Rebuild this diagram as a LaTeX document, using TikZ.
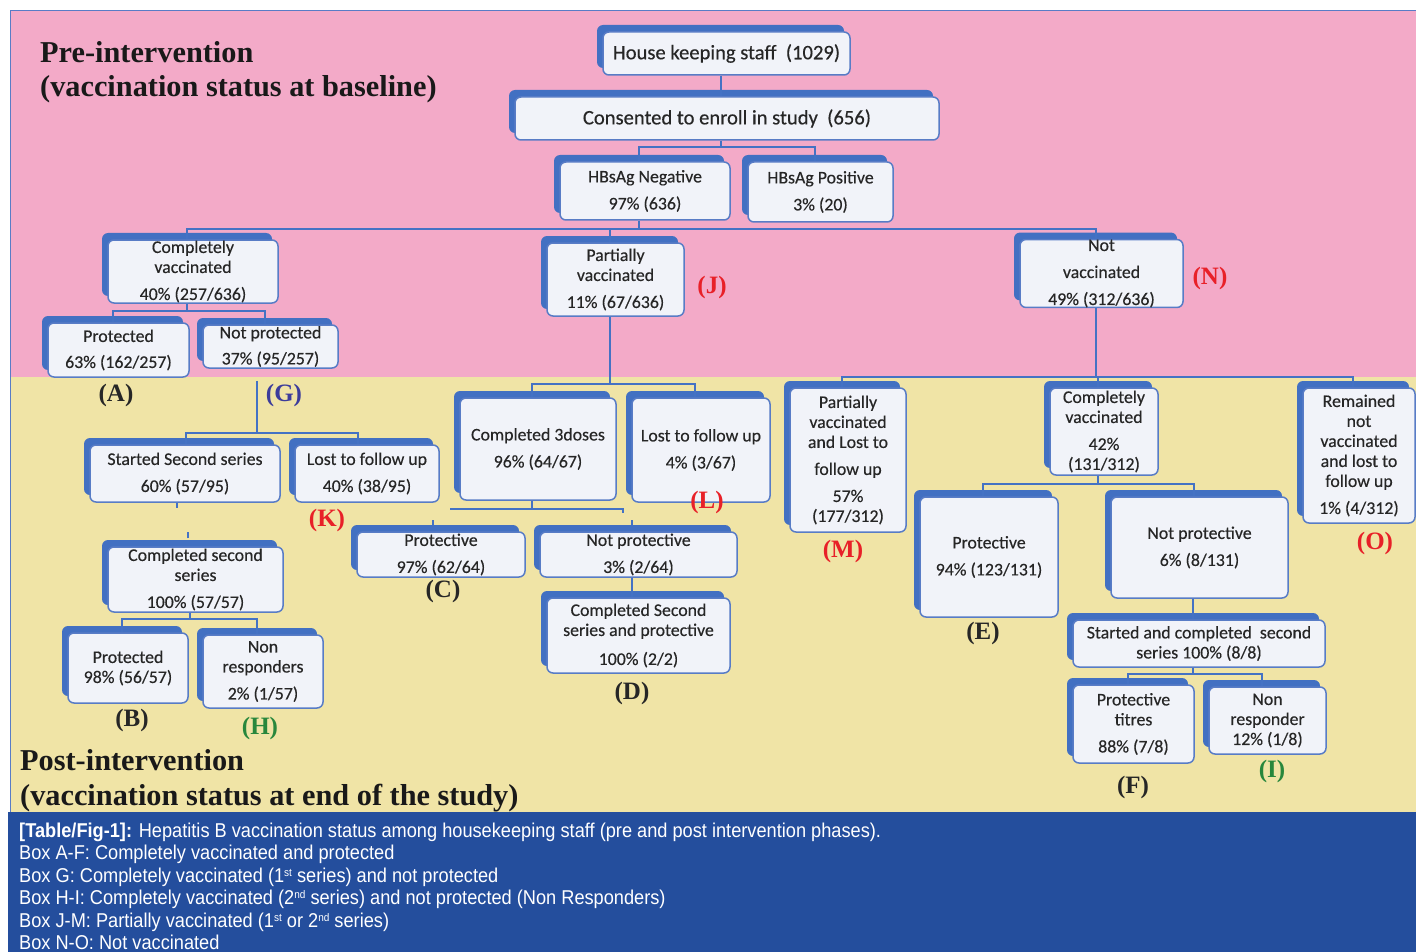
\documentclass[tikz,border=0pt]{standalone}
\usepackage{fontspec}
\usetikzlibrary{shadows,calc}
\newfontfamily\calf[FakeBold=0.35]{Carlito}
\newfontfamily\tmsf{Liberation Serif}
\newfontfamily\capf[FakeStretch=0.91]{Liberation Sans}
\definecolor{pinkbg}{RGB}{243,170,200}
\definecolor{yellowbg}{RGB}{240,228,166}
\definecolor{capblue}{RGB}{36,78,157}
\definecolor{shblue}{RGB}{66,112,194}
\definecolor{bdblue}{RGB}{88,124,198}
\definecolor{boxfill}{RGB}{241,243,249}
\definecolor{cnblue}{RGB}{68,114,196}
\definecolor{lred}{RGB}{232,32,40}
\definecolor{lgreen}{RGB}{40,135,60}
\definecolor{lpurple}{RGB}{60,60,155}
\definecolor{txt}{RGB}{38,38,38}
\newcommand\tconn[3]{%
  \draw[cn] ([xshift=-6pt]#1.south) -- ++(0,#2) coordinate (tmpb);
  \foreach \ch in {#3}{\draw[cn] (tmpb) -| ([xshift=-6pt]\ch.north);}}
\newcommand\bxn[7][bx]{%
  \node[#1, minimum width={(#5-#3)*1pt}, minimum height={(#6-#4)*1pt}] (#2) at ({(#3+#5)/2},{(#4+#6)/2}) {#7};}
\newcommand\supx[1]{\raisebox{6pt}{\fontsize{11}{11}\selectfont #1}}
\begin{document}
\begin{tikzpicture}[x=1pt,y=-1pt,
 bx/.style={draw=bdblue, line width=1.5pt, fill=boxfill, rounded corners=6pt, inner sep=0pt, align=center, text=txt, font=\calf\fontsize{17.8}{20}\selectfont, drop shadow={shadow xshift=-6pt, shadow yshift=7pt, fill=shblue, opacity=1}},
 bigbx/.style={bx, font=\calf\fontsize{20.6}{22}\selectfont},
 cn/.style={draw=cnblue, line width=2pt},
 lab/.style={font=\tmsf\bfseries\fontsize{25}{25}\selectfont, inner sep=0pt},
 head/.style={font=\tmsf\bfseries\fontsize{30.3}{34}\selectfont, text=black!90, anchor=base west, inner sep=0pt},
 capl/.style={font=\capf\fontsize{20}{22}\selectfont, text=white, anchor=base west, inner sep=0pt},
]
\useasboundingbox (0,0) rectangle (1416,952);
\fill[white] (0,0) rectangle (1416,952);
\fill[pinkbg] (10,11) rectangle (1416,377);
\fill[yellowbg] (10,377) rectangle (1416,812);
\fill[capblue] (8,812) rectangle (1416,952);
\draw[bdblue, line width=1pt] (10,812) -- (10,11) -- (1416,11);

% headings
\node[head] (pre1) at (40,63) {Pre-intervention};
\node[head] (pre2) at (40,97) {(vaccination status at baseline)};
\node[head] (post1) at (20,770) {Post-intervention};
\node[head] (post2) at (20,805) {(vaccination status at end of the study)};

% boxes
\bxn[bigbx]{hk}{603}{32}{850}{75}{House keeping staff\ \ (1029)}
\bxn[bigbx]{cons}{515}{97}{939}{140}{Consented to enroll in study\ \ (656)}
\bxn{neg}{560}{162}{730}{220}{HBsAg Negative\\[7pt]97\% (636)}
\bxn{pos}{748}{162}{893}{222}{HBsAg Positive\\[7pt]3\% (20)}
\bxn{cv}{108}{240}{278}{303}{Completely\\vaccinated\\[7pt]40\% (257/636)}
\bxn{prot}{48}{323}{189}{377}{Protected\\[6pt]63\% (162/257)}
\bxn{nprot}{203}{325}{338}{368}{Not protected\\[6pt]37\% (95/257)}
\bxn{pv}{547}{243}{684}{316}{Partially\\vaccinated\\[7pt]11\% (67/636)}
\bxn{nv}{1020}{240}{1183}{307}{Not\\[7pt]vaccinated\\[7pt]49\% (312/636)}
\bxn{ss}{90}{445}{280}{502}{Started Second series\\[7pt]60\% (57/95)}
\bxn{lk}{295}{445}{439}{502}{Lost to follow up\\[7pt]40\% (38/95)}
\bxn{css}{108}{547}{283}{612}{Completed second\\series\\[7pt]100\% (57/57)}
\bxn{pb}{68}{633}{188}{703}{Protected\\98\% (56/57)}
\bxn{nrh}{203}{635}{323}{708}{Non\\responders\\[7pt]2\% (1/57)}
\bxn{c3}{460}{398}{616}{500}{Completed 3doses\\[7pt]96\% (64/67)}
\bxn{ll}{632}{398}{770}{502}{Lost to follow up\\[7pt]4\% (3/67)}
\bxn{pc}{357}{532}{525}{577}{Protective\\[7pt]97\% (62/64)}
\bxn{npc}{540}{532}{737}{577}{Not protective\\[7pt]3\% (2/64)}
\bxn{csp}{547}{598}{730}{673}{Completed Second\\series and protective\\[9pt]100\% (2/2)}
\bxn{m}{790}{388}{906}{532}{Partially\\vaccinated\\and Lost to\\[7pt]follow up\\[7pt]57\%\\(177/312)}
\bxn{cv2}{1050}{388}{1158}{475}{Completely\\vaccinated\\[7pt]42\%\\(131/312)}
\bxn{rem}{1303}{388}{1415}{523}{Remained\\not\\vaccinated\\and lost to\\follow up\\[7pt]1\% (4/312)}
\bxn{pe}{920}{497}{1058}{617}{Protective\\[7pt]94\% (123/131)}
\bxn{npe}{1111}{497}{1288}{598}{Not protective\\[7pt]6\% (8/131)}
\bxn{scs}{1073}{620}{1325}{667}{Started and completed\ \ second\\series 100\% (8/8)}
\bxn{pf}{1073}{685}{1194}{763}{Protective\\titres\\[7pt]88\% (7/8)}
\bxn{nri}{1209}{687}{1326}{754}{Non\\responder\\12\% (1/8)}

% connectors
\path ([xshift=-6pt]hk.south) coordinate (hkb);
\draw[cn] (hkb) -- (hkb |- cons.north);
\tconn{cons}{6}{neg,pos}
\tconn{neg}{8}{cv,pv,nv}
\tconn{cv}{7}{prot,nprot}
\draw[cn] ([xshift=-14pt,yshift=-12pt]nprot.south) -- ++(0,52) coordinate (gb);
\draw[cn] (gb) -| ([xshift=1pt]ss.north);
\draw[cn] (gb) -| ([xshift=-9pt]lk.north);
\draw[cn] ([xshift=-8pt]ss.south) -- ++(0,5);
\draw[cn] ([xshift=-8pt,yshift=8pt]css.north) -- ++(0,-6);
\tconn{css}{6}{pb,nrh}
\tconn{pv}{67}{c3,ll}
\draw[cn] ([xshift=-6pt]c3.south) -- ++(0,8) coordinate (cb);
\draw[cn] (cb) -- ++(-82,0);
\draw[cn] (cb) -- ++(91,0) -- ++(0,4);
\draw[cn] ([xshift=-8pt,yshift=6pt]pc.north) -- ++(0,-5);
\draw[cn] ([xshift=-7pt,yshift=6pt]npc.north) -- ++(0,-5);
\path ([xshift=-7pt]npc.south) coordinate (npcb);
\draw[cn] (npcb) -- (npcb |- csp.north);
\tconn{nv}{69}{m,cv2,rem}
\tconn{cv2}{8}{pe,npe}
\path ([xshift=-7pt]npe.south) coordinate (npeb);
\draw[cn] (npeb) -- (npeb |- scs.north);
\tconn{scs}{6}{pf,nri}

% letter labels
\node[lab, text=txt] (lA) at (116,395) {(A)};
\node[lab, text=lpurple] (lG) at (284,395) {(G)};
\node[lab, text=txt] (lB) at (132,720) {(B)};
\node[lab, text=lgreen] (lH) at (260,728) {(H)};
\node[lab, text=lred] (lK) at (327,520) {(K)};
\node[lab, text=txt] (lC) at (443,591) {(C)};
\node[lab, text=lred] (lL) at (707,502) {(L)};
\node[lab, text=txt] (lD) at (632,693) {(D)};
\node[lab, text=lred] (lJ) at (712,287) {(J)};
\node[lab, text=lred] (lN) at (1210,278) {(N)};
\node[lab, text=lred] (lM) at (843,551) {(M)};
\node[lab, text=txt] (lE) at (983,633) {(E)};
\node[lab, text=lred] (lO) at (1375,543) {(O)};
\node[lab, text=txt] (lF) at (1133,787) {(F)};
\node[lab, text=lgreen] (lI) at (1272,771) {(I)};

% caption
\node[capl] (cap1) at (19,837) {{\bfseries [Table/Fig-1]:} Hepatitis B vaccination status among housekeeping staff (pre and post intervention phases).};
\node[capl] (cap2) at (19,859.5) {Box A-F: Completely vaccinated and protected};
\node[capl] (cap3) at (19,882) {Box G: Completely vaccinated (1\supx{st} series) and not protected};
\node[capl] (cap4) at (19,904.5) {Box H-I: Completely vaccinated (2\supx{nd} series) and not protected (Non Responders)};
\node[capl] (cap5) at (19,927) {Box J-M: Partially vaccinated (1\supx{st} or 2\supx{nd} series)};
\node[capl] (cap6) at (19,949.5) {Box N-O: Not vaccinated};
\end{tikzpicture}
\end{document}
